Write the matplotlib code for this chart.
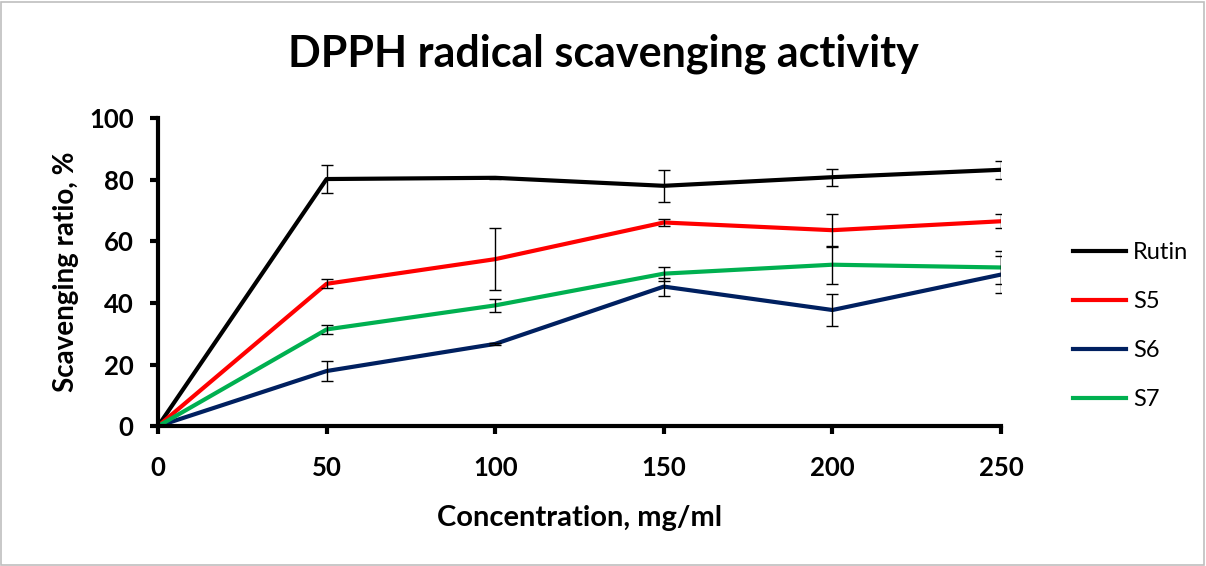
import matplotlib.pyplot as plt
from matplotlib.patches import Rectangle

conc = [0, 50, 100, 150, 200, 250]

rutin = [0, 80.2, 80.6, 78.0, 80.8, 83.2]
rutin_err = [0, 4.6, 0.3, 5.1, 2.8, 2.9]
s5 = [0, 46.2, 54.2, 66.1, 63.6, 66.5]
s5_err = [0, 1.5, 10.0, 1.0, 5.4, 2.3]
s6 = [0, 17.9, 26.7, 45.3, 37.7, 49.2]
s6_err = [0, 3.3, 0.4, 2.9, 5.2, 5.9]
s7 = [0, 31.4, 39.2, 49.5, 52.4, 51.5]
s7_err = [0, 1.5, 2.2, 2.3, 6.1, 5.2]

plt.rcParams['font.family'] = ['Lato', 'DejaVu Sans']

fig = plt.figure(figsize=(12.06, 5.66), dpi=100)
ax = fig.add_axes([0.131, 0.247, 0.699, 0.5445])

series = [("Rutin", rutin, rutin_err, "#000000"),
          ("S5", s5, s5_err, "#FF0000"),
          ("S6", s6, s6_err, "#002060"),
          ("S7", s7, s7_err, "#00B050")]

for name, vals, err, col in series:
    ax.plot(conc, vals, color=col, lw=3, label=name, zorder=2)
    ax.errorbar(conc, vals, yerr=err, fmt='none', ecolor='black',
                elinewidth=1.0, capsize=4, capthick=1.0, zorder=3)

ax.set_xlim(0, 250)
ax.set_ylim(0, 100)
ax.set_xticks(conc)
ax.set_yticks([0, 20, 40, 60, 80, 100])
for s in ['top', 'right']:
    ax.spines[s].set_visible(False)
for s in ['left', 'bottom']:
    ax.spines[s].set_linewidth(3)
ax.tick_params(direction='out', length=5.5, width=3, labelsize=18.5)
ax.tick_params(axis='x', pad=16)
ax.tick_params(axis='y', pad=12)
for lbl in ax.get_xticklabels() + ax.get_yticklabels():
    lbl.set_fontweight('bold')

ax.set_xlabel("Concentration, mg/ml", fontsize=21, fontweight='bold', labelpad=18)
ax.set_ylabel("Scavenging ratio, %", fontsize=20, fontweight='bold', labelpad=7)
fig.text(0.5, 0.905, "DPPH radical scavenging activity", ha='center', va='center',
         fontsize=31, fontweight='bold')

ax.legend(loc='center left', bbox_to_anchor=(1.06, 0.325), frameon=False,
          fontsize=17, handlelength=2.25, labelspacing=1.18, handletextpad=0.3)

fig.patches.append(Rectangle((0.001, 0.002), 0.997, 0.995, transform=fig.transFigure,
                             fill=False, edgecolor='#bfbfbf', lw=1.2))

fig.savefig("out.png", dpi=100)
